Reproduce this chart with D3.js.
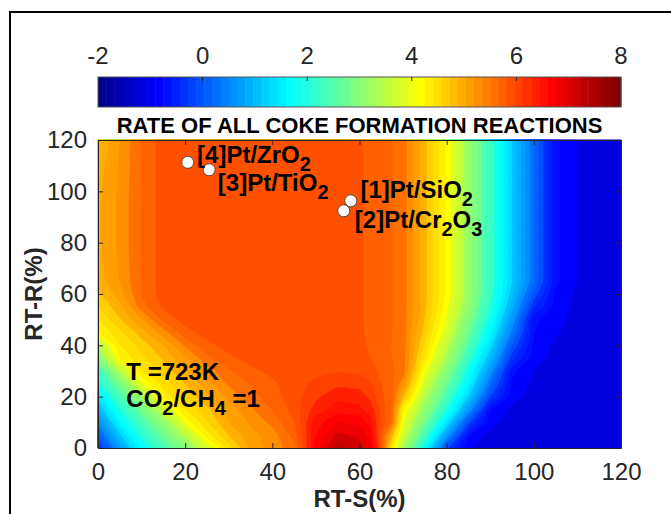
<!DOCTYPE html>
<html>
<head>
<meta charset="utf-8">
<script src="https://cdn.jsdelivr.net/npm/d3@7"></script>
<style>
  body { margin: 0; background: #fff; }
  svg { display: block; }
</style>
</head>
<body>
<script>
// grid columns: RT-S (%)
const rtS = [0, 5, 10, 15, 20, 25, 30, 35, 40, 45, 50, 55, 60, 62.5, 65, 67.5, 70, 75, 80, 85, 90, 95, 100, 105, 110, 115, 120];
// grid rows: RT-R (%), top row first
const rtR = [120, 115, 110, 105, 100, 95, 90, 85, 80, 75, 70, 65, 60, 55, 50, 45, 40, 35, 30, 25, 20, 15, 10, 5, 0];
// rate of all coke formation reactions (one row per rtR value)
const rate = [
  [4.80,5.20,5.61,5.90,5.90,5.90,5.90,5.90,5.90,5.90,5.90,5.90, 5.82,5.76,5.70,5.60,5.50,4.85,4.15,3.19,2.21,1.20,0.21,-0.75,-1.00,-1.10,-1.10],
  [4.85,5.21,5.61,5.90,5.90,5.90,5.90,5.90,5.90,5.90,5.90,5.90, 5.82,5.76,5.70,5.60,5.50,4.85,4.15,3.19,2.21,1.20,0.21,-0.75,-1.00,-1.10,-1.10],
  [4.90,5.22,5.61,5.90,5.90,5.90,5.90,5.90,5.90,5.90,5.90,5.90, 5.82,5.76,5.70,5.60,5.50,4.85,4.15,3.19,2.21,1.20,0.21,-0.75,-1.00,-1.10,-1.10],
  [4.92,5.23,5.61,5.90,5.90,5.90,5.90,5.90,5.90,5.90,5.90,5.90, 5.82,5.76,5.70,5.60,5.50,4.85,4.15,3.19,2.21,1.20,0.21,-0.75,-1.00,-1.10,-1.10],
  [4.95,5.24,5.61,5.90,5.90,5.90,5.90,5.90,5.90,5.90,5.90,5.90, 5.82,5.76,5.70,5.60,5.50,4.85,4.15,3.19,2.21,1.20,0.21,-0.75,-1.00,-1.10,-1.10],
  [4.96,5.25,5.61,5.90,5.90,5.90,5.90,5.90,5.90,5.90,5.90,5.90, 5.82,5.76,5.70,5.60,5.50,4.85,4.15,3.19,2.21,1.20,0.21,-0.75,-1.00,-1.10,-1.10],
  [4.96,5.25,5.61,5.90,5.90,5.90,5.90,5.90,5.90,5.90,5.90,5.90, 5.82,5.76,5.70,5.60,5.50,4.85,4.15,3.19,2.21,1.20,0.21,-0.75,-1.00,-1.10,-1.10],
  [4.96,5.25,5.61,5.90,5.90,5.90,5.90,5.90,5.90,5.90,5.90,5.90, 5.82,5.76,5.70,5.60,5.50,4.85,4.15,3.19,2.21,1.20,0.21,-0.75,-1.00,-1.10,-1.10],
  [4.96,5.25,5.61,5.90,5.90,5.90,5.90,5.90,5.90,5.90,5.90,5.90, 5.82,5.76,5.70,5.60,5.50,4.85,4.15,3.19,2.21,1.20,0.21,-0.75,-1.00,-1.10,-1.10],
  [4.95,5.24,5.61,5.90,5.90,5.90,5.90,5.90,5.90,5.90,5.90,5.90, 5.82,5.76,5.70,5.60,5.50,4.85,4.15,3.19,2.21,1.20,0.21,-0.75,-1.00,-1.10,-1.10],
  [4.92,5.23,5.61,5.90,5.90,5.90,5.90,5.90,5.90,5.90,5.90,5.90, 5.82,5.76,5.70,5.60,5.50,4.85,4.15,3.19,2.21,1.20,0.21,-0.75,-1.00,-1.10,-1.10],
  [4.88,5.21,5.61,5.90,5.90,5.90,5.90,5.90,5.90,5.90,5.90,5.90, 5.82,5.76,5.70,5.60,5.50,4.85,4.15,3.19,2.21,1.20,0.21,-0.75,-1.00,-1.10,-1.10],
  [4.75,5.11,5.61,5.90,5.90,5.90,5.90,5.90,5.90,5.90,5.90,5.90, 5.82,5.76,5.70,5.60,5.50,4.85,4.15,3.19,2.17,1.07,-0.07,-0.84,-1.05,-1.10,-1.10],
  [4.60,4.93,5.50,5.85,5.90,5.90,5.90,5.90,5.90,5.90,5.90,5.90, 5.82,5.76,5.70,5.60,5.50,4.85,4.06,3.10,2.06,0.88,-0.38,-0.89,-1.07,-1.10,-1.10],
  [4.40,4.78,5.18,5.64,5.88,5.90,5.90,5.90,5.90,5.90,5.90,5.90, 5.82,5.76,5.70,5.60,5.50,4.78,3.94,2.90,1.85,0.63,-0.75,-0.94,-1.07,-1.10,-1.10],
  [4.20,4.55,4.90,5.30,5.72,5.88,5.90,5.90,5.90,5.90,5.90,5.90, 5.83,5.76,5.70,5.60,5.50,4.70,3.80,2.69,1.63,0.36,-0.79,-0.98,-1.08,-1.10,-1.10],
  [3.50,4.39,4.69,5.00,5.43,5.74,5.88,5.90,5.90,5.90,5.90,5.90, 5.84,5.77,5.68,5.59,5.50,4.55,3.52,2.48,1.33,0.00,-0.84,-1.05,-1.10,-1.10,-1.10],
  [2.90,4.23,4.54,4.83,5.17,5.53,5.75,5.88,5.90,5.90,5.90,5.92, 5.86,5.80,5.70,5.60,5.50,4.37,3.31,2.20,1.00,-0.33,-0.91,-1.08,-1.10,-1.10,-1.10],
  [2.20,3.48,4.38,4.67,4.97,5.30,5.57,5.75,5.85,5.90,5.95,5.98, 5.96,5.88,5.75,5.62,5.50,4.04,3.00,1.86,0.63,-0.75,-1.00,-1.08,-1.10,-1.10,-1.10],
  [1.95,2.81,3.97,4.49,4.80,5.11,5.43,5.61,5.76,5.92,6.05,6.15, 6.12,6.02,5.80,5.63,5.28,3.73,2.69,1.61,0.22,-0.83,-1.06,-1.10,-1.10,-1.10,-1.10],
  [1.40,2.39,3.25,4.28,4.62,4.97,5.25,5.52,5.70,5.92,6.15,6.35, 6.30,6.15,5.85,5.63,4.85,3.42,2.38,1.19,-0.19,-0.93,-1.08,-1.10,-1.10,-1.10,-1.10],
  [0.95,2.01,2.75,3.68,4.40,4.75,5.08,5.36,5.61,5.88,6.30,6.50, 6.45,6.30,5.95,5.56,4.25,3.11,1.98,0.64,-0.78,-1.05,-1.10,-1.10,-1.10,-1.10,-1.10],
  [0.50,1.62,2.38,3.11,4.03,4.58,5.00,5.23,5.46,5.79,6.50,6.80, 6.75,6.50,5.95,5.50,4.00,2.75,1.44,-0.13,-0.93,-1.08,-1.10,-1.10,-1.10,-1.10,-1.10],
  [0.05,1.15,2.04,2.71,3.47,4.29,4.80,5.13,5.29,5.68,6.60,7.05, 6.95,6.70,5.80,4.85,3.69,2.31,0.68,-0.78,-1.07,-1.10,-1.10,-1.10,-1.10,-1.10,-1.10],
  [-0.40,0.71,1.75,2.38,3.00,3.78,4.50,5.05,5.30,5.50,6.70,7.30, 7.10,6.85,5.85,4.25,3.36,1.75,-0.13,-0.98,-1.10,-1.10,-1.10,-1.10,-1.10,-1.10,-1.10]
];

// catalysts
const catalystLabels = ["[1]Pt/SiO_2", "[2]Pt/Cr_2O_3", "[3]Pt/TiO_2", "[4]Pt/ZrO_2"];
const catalystRtS = [58.0, 56.4, 25.5, 20.6];
const catalystRtR = [96.3, 92.4, 108.4, 111.3];

// ticks
const xTicks = [0, 20, 40, 60, 80, 100, 120];
const yTicks = [0, 20, 40, 60, 80, 100, 120];
const cbTicks = [-2, 0, 2, 4, 6, 8];
const cMin = -2, cMax = 8;

const W = 671, H = 514;
const FONT = "'Liberation Sans', Arial, Helvetica, sans-serif";
const axisColor = "#262626";

const svg = d3.select("body").append("svg")
    .attr("width", W)
    .attr("height", H)
    .attr("font-family", FONT);

svg.append("rect").attr("width", W).attr("height", H).attr("fill", "#fff");

// figure frame (only left and top visible)
svg.append("rect")
    .attr("x", 10).attr("y", 12)
    .attr("width", 700).attr("height", 600)
    .attr("fill", "none")
    .attr("stroke", "#000")
    .attr("stroke-width", 2);

const x = d3.scaleLinear().domain([0, 120]).range([98, 621]);
const y = d3.scaleLinear().domain([0, 120]).range([448, 140]);

// jet colormap, 64 entries like matlab
function jet(t) {
    const c = v => Math.round(255 * Math.max(0, Math.min(1, v)));
    return `rgb(${c(1.5 - Math.abs(4 * t - 3))},${c(1.5 - Math.abs(4 * t - 2))},${c(1.5 - Math.abs(4 * t - 1))})`;
}
function cmap(v) {
    const k = Math.max(1, Math.min(64, Math.floor((v - cMin) / (cMax - cMin) * 64) + 1));
    return jet(k / 64);
}

// filled contours
const step = 0.2;
const levels = d3.range(0, 50).map(i => cMin + i * step);

const gx = d3.scaleLinear().domain(rtS.map((_, i) => i + 0.5)).range(rtS).clamp(true);
const gy = d3.scaleLinear().domain(rtR.map((_, j) => j + 0.5)).range(rtR).clamp(true);
const path = d3.geoPath(d3.geoTransform({
    point(px, py) { this.stream.point(x(gx(px)), y(gy(py))); }
}));

const contours = d3.contours()
    .size([rtS.length, rtR.length])
    .thresholds(levels)(rate.flat());

svg.append("g")
    .selectAll("path")
    .data(contours)
    .join("path")
    .attr("d", path)
    .attr("fill", d => cmap(d.value + step / 2))
    .attr("stroke", d => cmap(d.value + step / 2))
    .attr("stroke-width", 0.3);

// axes (box with inward ticks)
function styleAxis(g) {
    g.attr("font-size", 24).attr("font-family", FONT);
    g.select(".domain").attr("stroke", axisColor);
    g.selectAll(".tick line").attr("stroke", axisColor);
    g.selectAll(".tick text").attr("fill", axisColor);
}

svg.append("g")
    .attr("transform", "translate(0,448)")
    .call(d3.axisBottom(x).tickValues(xTicks).tickSizeInner(-5).tickSizeOuter(0).tickPadding(15))
    .call(styleAxis);
svg.append("g")
    .attr("transform", "translate(0,140)")
    .call(d3.axisTop(x).tickValues(xTicks).tickSizeInner(-5).tickSizeOuter(0).tickFormat(() => ""))
    .call(styleAxis);
svg.append("g")
    .attr("transform", "translate(98,0)")
    .call(d3.axisLeft(y).tickValues(yTicks).tickSizeInner(-5).tickSizeOuter(0).tickPadding(11))
    .call(styleAxis);
svg.append("g")
    .attr("transform", "translate(621,0)")
    .call(d3.axisRight(y).tickValues(yTicks).tickSizeInner(-5).tickSizeOuter(0).tickFormat(() => ""))
    .call(styleAxis);

// axis labels
svg.append("text")
    .attr("x", 359.5).attr("y", 507)
    .attr("text-anchor", "middle")
    .attr("font-size", 24).attr("font-weight", "bold")
    .attr("fill", axisColor)
    .text("RT-S(%)");
svg.append("text")
    .attr("transform", "translate(42,294) rotate(-90)")
    .attr("text-anchor", "middle")
    .attr("font-size", 24).attr("font-weight", "bold")
    .attr("fill", axisColor)
    .text("RT-R(%)");

// title
svg.append("text")
    .attr("x", 359.5).attr("y", 133)
    .attr("text-anchor", "middle")
    .attr("font-size", 22).attr("font-weight", "bold")
    .attr("fill", "#000")
    .text("RATE OF ALL COKE FORMATION REACTIONS");

// colorbar
const cb = d3.scaleLinear().domain([cMin, cMax]).range([98, 621]);
const cbTop = 77, cbH = 30;
svg.append("g")
    .selectAll("rect")
    .data(d3.range(1, 65))
    .join("rect")
    .attr("x", k => cb(cMin + (k - 1) * (cMax - cMin) / 64))
    .attr("y", cbTop)
    .attr("width", cb(cMin + (cMax - cMin) / 64) - cb(cMin) + 0.5)
    .attr("height", cbH)
    .attr("fill", k => jet(k / 64));
svg.append("rect")
    .attr("x", cb(cMin)).attr("y", cbTop)
    .attr("width", cb(cMax) - cb(cMin)).attr("height", cbH)
    .attr("fill", "none").attr("stroke", "#555").attr("stroke-width", 1);
svg.append("g")
    .selectAll("line")
    .data(cbTicks.slice(1, -1))
    .join("line")
    .attr("x1", d => cb(d)).attr("x2", d => cb(d))
    .attr("y1", cbTop).attr("y2", cbTop + 4)
    .attr("stroke", axisColor);
svg.append("g")
    .selectAll("text")
    .data(cbTicks)
    .join("text")
    .attr("x", d => cb(d))
    .attr("y", 64)
    .attr("text-anchor", "middle")
    .attr("font-size", 24)
    .attr("fill", axisColor)
    .text(d => d);

// text with tex-like subscripts ("_2")
function richText(sel, str, size, subSize) {
    let shift = 0;
    str.split(/_(\d)/).forEach((part, i) => {
        if (!part) return;
        const target = i % 2 ? 8 : 0;
        sel.append("tspan")
            .attr("dy", target - shift)
            .attr("font-size", i % 2 ? subSize : size)
            .text(part);
        shift = target;
    });
}

// catalyst points and labels
const labelOffset = [[9.7, -2.7], [11, 17.3], [8.7, 21.3], [9.3, 0.7]];
const pts = catalystLabels.map((name, i) => ({ name, s: catalystRtS[i], r: catalystRtR[i], off: labelOffset[i] }));

svg.append("g")
    .selectAll("circle")
    .data(pts)
    .join("circle")
    .attr("cx", d => x(d.s))
    .attr("cy", d => y(d.r))
    .attr("r", 6)
    .attr("fill", "#fff")
    .attr("stroke", "#333")
    .attr("stroke-width", 0.8);

svg.append("g")
    .selectAll("text")
    .data(pts)
    .join("text")
    .attr("x", d => x(d.s) + d.off[0])
    .attr("y", d => y(d.r) + d.off[1])
    .attr("font-weight", "bold")
    .attr("fill", "#000")
    .each(function(d) { richText(d3.select(this), d.name, 24, 20); });

// conditions
const notes = ["T =723K", "CO_2/CH_4 =1"];
const notePos = [[6.5, 26.5], [6.5, 16]];
notes.forEach((n, i) => {
    const t = svg.append("text")
        .attr("x", x(notePos[i][0]))
        .attr("y", y(notePos[i][1]))
        .attr("font-weight", "bold")
        .attr("fill", "#000");
    richText(t, n, 24, 20);
});
</script>
</body>
</html>
